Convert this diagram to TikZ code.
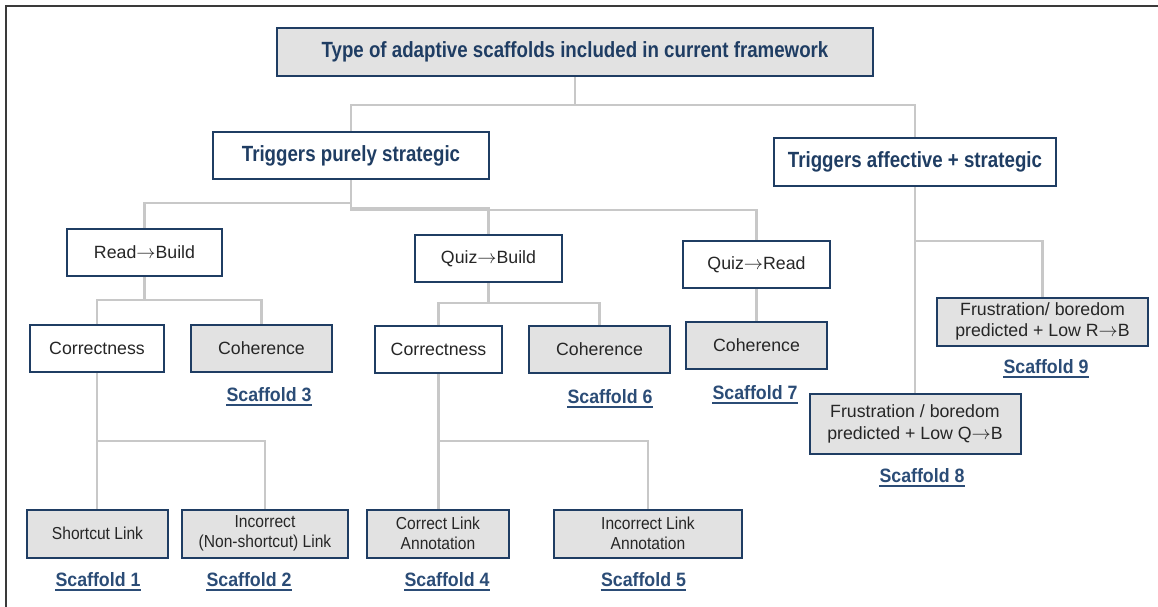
\documentclass[tikz,border=0pt]{standalone}
\usepackage{fontspec}
\setmainfont{Liberation Sans}
\newfontfamily\condbf[FakeStretch=0.85]{Liberation Sans Bold}
\newfontfamily\labelbf[FakeStretch=0.92]{Liberation Sans Bold}
\newfontfamily\narrowf[FakeStretch=0.9]{Liberation Sans}
\usetikzlibrary{calc}

\newcommand\arr{\ensuremath{\rightarrow}}

\definecolor{navy}{HTML}{1F3D63}
\definecolor{boxgray}{HTML}{E2E2E2}
\definecolor{linkgray}{HTML}{C8C8C8}
\definecolor{labelblue}{HTML}{2B4C76}
\definecolor{framec}{HTML}{3A3A3A}

\tikzset{
  box/.style={draw=navy, line width=1.5pt, inner sep=0pt, align=center, text=black!85},
  graybox/.style={box, fill=boxgray},
  whitebox/.style={box, fill=white},
  sz/.style 2 args={minimum width=#1*0.75pt, minimum height=#2*0.75pt},
  head/.style={font=\condbf\fontsize{16.5}{19}\selectfont, text=navy},
  plain/.style={font=\fontsize{13.3}{16}\selectfont},
  small/.style={font=\narrowf\fontsize{13}{15.2}\selectfont},
  scaf/.style={font=\labelbf\fontsize{14.5}{17}\selectfont, text=labelblue, inner sep=0pt},
  conn/.style={draw=linkgray, line width=2pt},
  uline/.style={draw=labelblue, line width=1.1pt},
}

\begin{document}
\begin{tikzpicture}[x=0.75pt, y=-0.75pt]
\useasboundingbox (0,0) rectangle (1158,607);

% outer frame (top and left edges)
\draw[framec, line width=1.1pt] (6,607) -- (6,6) -- (1158,6);

% level 1 and 2
\node[graybox, head, sz={596}{48}] (top) at (575,52) {Type of adaptive scaffolds included in current framework};
\node[whitebox, head, sz={276}{47}] (tps) at (351,155.5) {Triggers purely strategic};
\node[whitebox, head, sz={282}{48}] (tas) at (915,162) {Triggers affective + strategic};

% level 3
\node[whitebox, plain, sz={155}{47}] (rb) at (144.5,252.5) {Read\arr Build};
\node[whitebox, plain, sz={147}{47}] (qb) at (488.5,258.5) {Quiz\arr Build};
\node[whitebox, plain, sz={147}{47}] (qr) at (756.5,264.5) {Quiz\arr Read};

% level 4
\node[whitebox, plain, sz={134}{47}] (c1) at (97,348.5) {Correctness};
\node[graybox, plain, sz={141}{47}] (h1) at (261.5,348.5) {Coherence};
\node[whitebox, plain, sz={127}{47}] (c2) at (438.5,349.5) {Correctness};
\node[graybox, plain, sz={141}{47}] (h2) at (599.5,349.5) {Coherence};
\node[graybox, plain, sz={141}{47}] (h3) at (756.5,345.5) {Coherence};
\node[graybox, plain, sz={211}{48}] (f9) at (1042.5,321.5) {Frustration/ boredom\\predicted + Low R\arr B};
\node[graybox, plain, sz={211}{60}] (f8) at (915,424) {Frustration / boredom\\predicted + Low Q\arr B};

% level 5
\node[graybox, small, sz={141}{48}] (l1) at (97.5,533.5) {Shortcut Link};
\node[graybox, small, sz={166}{48}] (l2) at (265,533.5) {Incorrect\\(Non-shortcut) Link};
\node[graybox, small, sz={142}{48}] (l4) at (438,533.5) {Correct Link\\Annotation};
\node[graybox, small, sz={188}{48}] (l5) at (648,533.5) {Incorrect Link\\Annotation};

% scaffold labels, each underlined
\foreach \name/\num/\x/\y in {s1/1/98/580, s2/2/249/580, s3/3/269/395, s4/4/447/580,
    s5/5/643.5/580, s6/6/610/397, s7/7/755/393, s8/8/922/476, s9/9/1046/367} {
  \node[scaf] (\name) at (\x,\y) {Scaffold \num};
  \draw[uline] ([yshift=-2.2pt]\name.base west) -- ([yshift=-2.2pt]\name.base east);
}

% connectors
\draw[conn] (top.south) -- (top.south |- 0,105);
\draw[conn] (tps.north) -- (tps.north |- 0,105) -- (tas.north |- 0,105) -- (tas.north);

\draw[conn] (tps.south) -- (tps.south |- 0,203) -- (rb.north |- 0,203) -- (rb.north);
\draw[conn] (tps.south) -- (tps.south |- 0,208) -- (qb.north |- 0,208) -- (qb.north);
\draw[conn] (tps.south) -- (tps.south |- 0,210) -- (qr.north |- 0,210) -- (qr.north);

\draw[conn] (rb.south) -- (rb.south |- 0,300);
\draw[conn] (c1.north) -- (c1.north |- 0,300) -- (h1.north |- 0,300) -- (h1.north);
\draw[conn] (qb.south) -- (qb.south |- 0,303);
\draw[conn] (c2.north) -- (c2.north |- 0,303) -- (h2.north |- 0,303) -- (h2.north);
\draw[conn] (qr.south) -- (h3.north);

\draw[conn] (tas.south) -- (f8.north);
\draw[conn] (tas.south |- 0,241) -- (f9.north |- 0,241) -- (f9.north);

\draw[conn] (c1.south) -- (c1.south |- l1.north);
\draw[conn] (c1.south |- 0,441) -- (l2.north |- 0,441) -- (l2.north);
\draw[conn] (c2.south) -- (c2.south |- l4.north);
\draw[conn] (c2.south |- 0,441) -- (l5.north |- 0,441) -- (l5.north);
\end{tikzpicture}
\end{document}
